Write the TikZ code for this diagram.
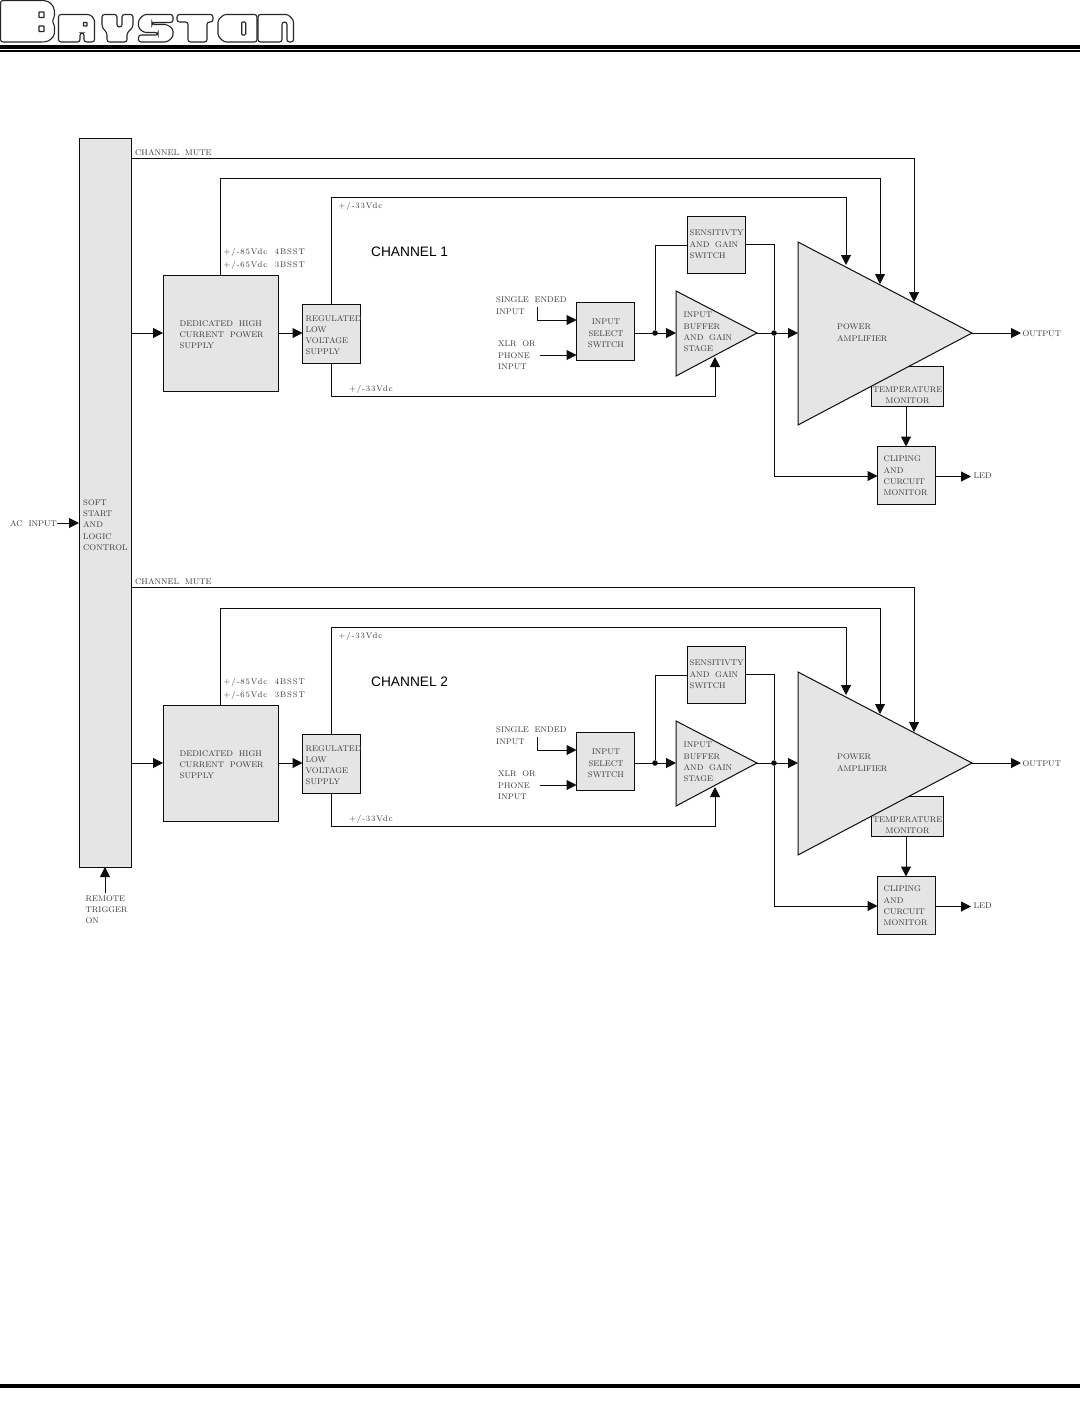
\documentclass[tikz,border=0pt]{standalone}
\usepackage{fontspec}
\newfontfamily\labfont{Latin Modern Roman}
\newfontfamily\labwidefont[LetterSpace=11]{Latin Modern Roman}
\newfontfamily\chanfont{Liberation Sans}
\usetikzlibrary{arrows.meta,calc}
\definecolor{boxgray}{gray}{0.9}
\definecolor{inkgray}{gray}{0.05}
\definecolor{txtgray}{gray}{0.22}
\tikzset{
  x=1pt,y=-1pt,
  blockbox/.style={draw=inkgray,line width=1pt,fill=boxgray,rectangle,inner sep=0pt,outer sep=0pt,anchor=north west},
  tribox/.style={draw=inkgray,line width=1pt,fill=boxgray,line join=miter},
  wire/.style={draw=inkgray,line width=1pt},
  arr/.style={wire,-{Triangle[length=10pt,width=10pt]}},
  lab/.style={inner sep=0pt,anchor=north west,align=left,text=txtgray,
    font=\labfont\fontsize{8.2}{11.2}\selectfont},
  labwide/.style={lab,font=\labwidefont\fontsize{8.2}{11.2}\selectfont},
  chan/.style={inner sep=0pt,anchor=west,font=\fontsize{13.7}{16}\selectfont\chanfont,text=black},
  dot/.style={circle,fill=inkgray,inner sep=0pt,minimum size=5.5pt},
  logo/.style={draw=black!85,line width=1.1pt,fill=white,rounded corners=2.5pt},
}
\newcommand{\ChannelBlock}[3]{%
\begin{scope}[shift={(0,#2)}]
  % temperature monitor sits behind the power amplifier
  \node[blockbox,minimum width=72pt,minimum height=40pt] (temp#1) at (871,366) {};
  \draw[tribox] (798,242) -- (972,333) -- (798,425) -- cycle;
  \coordinate (paW#1) at (798,333);
  \coordinate (paE#1) at (972,333);
  \coordinate (paA#1) at (846,265);
  \coordinate (paB#1) at (880,284);
  \coordinate (paC#1) at (914,302);
  \draw[tribox] (676,291) -- (757,333) -- (676,376) -- cycle;
  \coordinate (ibW#1) at (676,333);
  \coordinate (ibE#1) at (757,333);
  \coordinate (ibS#1) at (715,357);
  \node[blockbox,minimum width=115pt,minimum height=116pt] (psu#1) at (163,275) {};
  \node[blockbox,minimum width=58pt,minimum height=58.5pt] (reg#1) at (302.5,304.5) {};
  \node[blockbox,minimum width=58pt,minimum height=58pt] (sel#1) at (576.5,302.5) {};
  \node[blockbox,minimum width=58pt,minimum height=57pt] (sen#1) at (687.5,216.5) {};
  \node[blockbox,minimum width=58pt,minimum height=58pt] (clip#1) at (877.5,446.5) {};
  % labels
  \node[lab] (tmu#1) at (135,#3+1.5) {CHANNEL\ \ MUTE};
  \node[labwide] (t85#1) at (223.5,248) {+/-85Vdc\ \ 4BSST\\[1.7pt]+/-65Vdc\ \ 3BSST};
  \node[labwide] (t33a#1) at (338.5,202) {+/-33Vdc};
  \node[labwide] (t33b#1) at (349,385) {+/-33Vdc};
  \node[chan] (tch#1) at (371,252) {CHANNEL #1};
  \node[lab] (tpsu#1) at (179.5,320.5) {DEDICATED\ \ HIGH\\CURRENT\ \ POWER\\SUPPLY};
  \node[lab] (treg#1) at (305.5,315) {REGULATED\\LOW\\VOLTAGE\\SUPPLY};
  \node[lab] (tsin#1) at (496,297) {SINGLE\ \ ENDED\\INPUT};
  \node[lab] (txlr#1) at (498,341) {XLR\ \ OR\\PHONE\\INPUT};
  \node[lab,align=center,anchor=north] (tsel#1) at (606,319) {INPUT\\SELECT\\SWITCH};
  \node[lab] (tsen#1) at (689.5,230) {SENSITIVTY\\AND\ \ GAIN\\SWITCH};
  \node[lab] (tib#1) at (683.5,312) {INPUT\\BUFFER\\AND\ \ GAIN\\STAGE};
  \node[lab] (tpa#1) at (837,324) {POWER\\AMPLIFIER};
  \node[lab,align=center,anchor=north] (ttemp#1) at (907.5,386) {TEMPERATURE\\MONITOR};
  \node[lab] (tclip#1) at (883.5,456) {CLIPING\\AND\\CURCUIT\\MONITOR};
  \node[lab] (tout#1) at (1022.5,330.5) {OUTPUT};
  \node[lab] (tled#1) at (973.5,473) {LED};
  % connectors
  \coordinate (mS#1) at ($(soft.east |- 0,#3)+(0,10)$);
  \draw[arr] (mS#1) -| (paC#1);
  \draw[arr] (psu#1.north) |- (880,178) -- (paB#1);
  \draw[arr] (reg#1.north) |- (846,197) -- (paA#1);
  \draw[wire] (reg#1.south) |- (715,396.5) coordinate (rb#1);
  \draw[arr] (rb#1) -- (ibS#1);
  \draw[arr] (soft.east |- 0,333) -- (psu#1.west |- 0,333);
  \draw[arr] (psu#1.east |- 0,333) -- (reg#1.west |- 0,333);
  \coordinate (sinS#1) at (537,307);
  \draw[arr] (sinS#1) |- (sel#1.west |- 0,320);
  \coordinate (xlrS#1) at (540,355);
  \draw[arr] (xlrS#1) -- (sel#1.west |- 0,355);
  \node[dot] (da#1) at (655,333) {};
  \draw[arr] (sel#1.east |- 0,333) -- (ibW#1);
  \draw[wire] (da#1) |- (sen#1.west |- 0,245);
  \node[dot] (db#1) at (774,333) {};
  \draw[arr] (ibE#1) -- (paW#1);
  \draw[wire] (sen#1.east |- 0,244) -| (db#1);
  \draw[arr] (db#1) |- (clip#1.west |- 0,476);
  \draw[arr] (paE#1) -- (1021,333) coordinate (oe#1);
  \draw[arr] (temp#1.south -| 906,0) -- (clip#1.north -| 906,0);
  \draw[arr] (clip#1.east |- 0,476.5) -- (971,476.5) coordinate (le#1);
\end{scope}}
\begin{document}
\begin{tikzpicture}
\useasboundingbox (0,0) rectangle (1080,1421);
% logo
\begin{scope}
\draw[logo] (0.5,0.5) -- (42,0.5) .. controls (50,1) and (54,6) .. (54.5,13) -- (54.5,17) -- (52,21) -- (54.5,25) -- (54.5,31) .. controls (54,37) and (50,41.5) .. (42,42) -- (0.5,42) -- cycle;
\draw[logo,rounded corners=0.5pt] (39,12) rectangle (44,17.5);
\draw[logo,rounded corners=0.5pt] (39,26) rectangle (44,31.5);
\draw[logo] (58.5,14.5) -- (90,14.5) -- (94.5,19) -- (94.5,42) -- (84,42) -- (84,33) -- (80,33) -- (80,42) -- (58.5,42) -- cycle;
\draw[logo,rounded corners=0.5pt] (83.5,22.5) rectangle (87,26);
\draw[logo] (102,14.5) -- (117,14.5) -- (117,27) -- (122,27) -- (122,14.5) -- (133,14.5) -- (133,27) -- (127,33) -- (127,42) -- (107,42) -- (107,33) -- (102,27) -- cycle;
\draw[logo] (144,14.5) -- (173,14.5) -- (173,22.5) -- (152,22.5) -- (152,24.5) -- (167,24.5) -- (173,29) -- (173,37) -- (167,42) -- (138.5,42) -- (138.5,35) -- (158,35) -- (158,32.5) -- (144,32.5) -- (138.5,28) -- (138.5,20) -- cycle;
\draw[logo] (177,14.5) -- (213,14.5) -- (213,22) -- (207,22) -- (207,42) -- (188,42) -- (188,22) -- (177,22) -- cycle;
\draw[logo] (224,14.5) -- (257,14.5) -- (257,42) -- (224,42) -- (218,36) -- (218,20) -- cycle;
\draw[logo,rounded corners=1pt] (241.7,22) rectangle (245.7,35);
\draw[logo] (258,14.5) -- (288,14.5) -- (293.5,20) -- (293.5,42) -- (287,42) -- (287,22) -- (282,22) -- (282,42) -- (258,42) -- cycle;
\end{scope}
\fill[black] (0,45.2) rectangle (1080,49.3);
\fill[black] (0,50.4) rectangle (1080,52);
\fill[black] (0,1384) rectangle (1080,1388);
% master block
\node[blockbox,minimum width=52pt,minimum height=729pt] (soft) at (79,138) {};
\node[lab] (tsoft) at (83,499.5) {SOFT\\START\\AND\\LOGIC\\CONTROL};
\node[lab] (tac) at (10,520.5) {AC\ \ INPUT};
\coordinate (acS) at (57,523);
\draw[arr] (acS) -- (soft.west |- acS);
\node[lab] (trem) at (85.5,895.5) {REMOTE\\TRIGGER\\ON};
\coordinate (remS) at (105,893);
\draw[arr] (remS) -- (soft.south -| remS);
\ChannelBlock{1}{0}{148}
\ChannelBlock{2}{430}{147}
\end{tikzpicture}
\end{document}
